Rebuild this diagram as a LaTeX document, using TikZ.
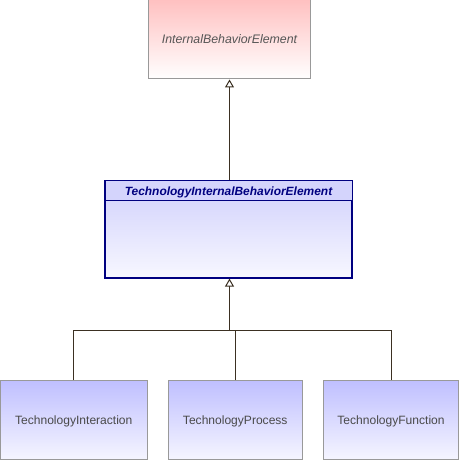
\documentclass[tikz,border=0pt]{standalone}
\usepackage{fontspec}
\setmainfont{Liberation Sans}
\usetikzlibrary{arrows.meta,calc}
\definecolor{edgec}{HTML}{3B3022}
\definecolor{grayborder}{HTML}{999999}
\definecolor{navyc}{HTML}{000080}
\definecolor{pinktop}{HTML}{FFC0C0}
\definecolor{bluetop}{HTML}{BFBFFF}
\definecolor{midtop}{HTML}{D0D0FC}
\definecolor{midhead}{HTML}{D4D4FC}
\definecolor{txtgray}{HTML}{4A4A4A}
\definecolor{topgray}{HTML}{555555}
\tikzset{
  abstractbox/.style={draw=grayborder, line width=1bp, top color=pinktop, bottom color=white,
    minimum width=162bp, minimum height=80bp, inner sep=0pt, text=topgray, text depth=0pt,
    font=\fontsize{12.4}{14}\selectfont\itshape},
  childbox/.style={draw=grayborder, line width=1bp, top color=bluetop, bottom color=white!96!blue,
    minimum height=78.5bp, inner sep=0pt, text=txtgray, text depth=0pt, font=\fontsize{12.1}{14}\selectfont},
  midbox/.style={draw=navyc, line width=1.2bp, top color=midtop, bottom color=white!97!blue,
    minimum width=246bp, minimum height=97bp, inner sep=0pt},
  conn/.style={draw=edgec, line width=1bp},
  gen/.style={conn, -{Triangle[open, width=9bp, length=8bp, fill=white]}},
}
\begin{document}
\begin{tikzpicture}[x=1bp,y=-1bp]
\useasboundingbox (0,0) rectangle (459,460);
\node[abstractbox] (top) at (229.5,39) {InternalBehaviorElement};
\node[midbox] (mid) at (228.5,229.5) {};
\fill[midhead] ($(mid.north west)+(0.6,0.6)$) rectangle ($(mid.north east)+(-0.6,20.5)$);
\draw[navyc, line width=1bp] ($(mid.north west)+(0,20.5)$) -- ($(mid.north east)+(0,20.5)$);
\draw[navyc, line width=1.2bp] (mid.north west) rectangle (mid.south east);
\node[text=navyc, font=\fontsize{12}{14}\selectfont\bfseries\itshape, inner sep=0pt, text depth=0pt] (midtitle) at ($(mid.north)+(0,11)$) {TechnologyInternalBehaviorElement};
\node[childbox, minimum width=146.5bp] (c1) at (73.75,419.75) {TechnologyInteraction};
\node[childbox, minimum width=133.5bp] (c2) at (235.25,419.75) {TechnologyProcess};
\node[childbox, minimum width=135bp] (c3) at (391,419.75) {TechnologyFunction};
\coordinate (bus) at (229.5,330);
\draw[gen] (mid.north -| top.south) -- (top.south);
\draw[conn] (c1.north) |- (bus);
\draw[conn] (c2.north) |- (bus);
\draw[conn] (c3.north) |- (bus);
\draw[gen] (bus) -- (bus |- mid.south);
\end{tikzpicture}
\end{document}
